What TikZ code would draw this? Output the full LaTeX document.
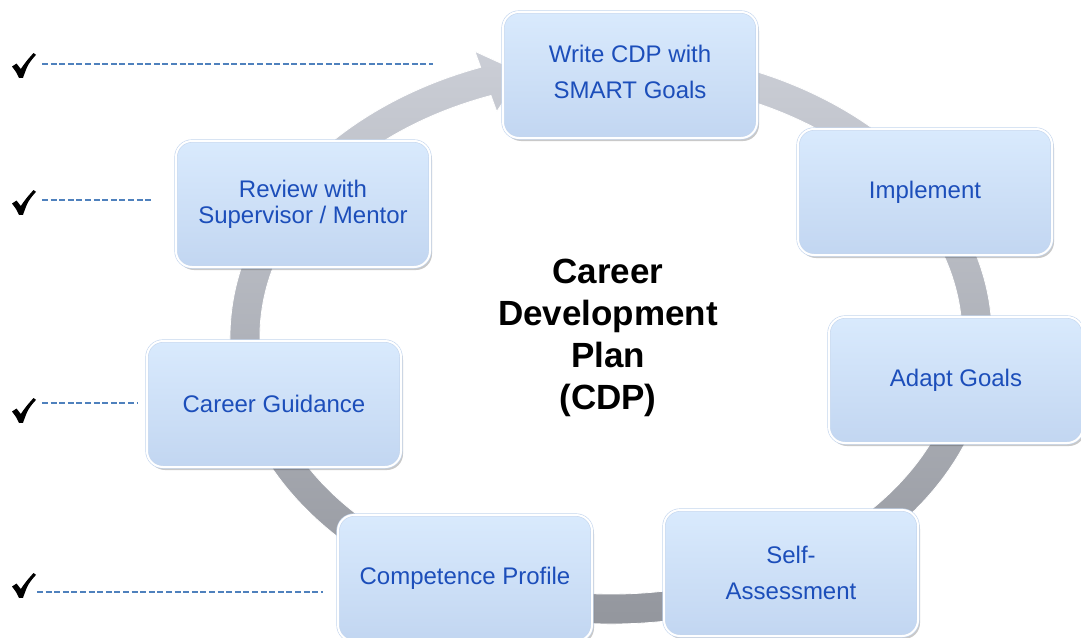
\documentclass[tikz,border=0pt]{standalone}
\usepackage{fontspec}
\setmainfont{Liberation Sans}
\usetikzlibrary{shadows}
\definecolor{boxtop}{RGB}{217,234,253}
\definecolor{boxbot}{RGB}{194,214,241}
\definecolor{boxtxt}{RGB}{28,78,186}
\definecolor{dashblue}{RGB}{79,129,189}
\definecolor{ringtop}{RGB}{203,206,214}
\definecolor{ringbot}{RGB}{146,149,156}
\definecolor{rimblue}{RGB}{196,214,238}
\tikzset{
  cdpbox/.style={rounded corners=16pt, minimum width=254pt, minimum height=126pt,
    top color=boxtop, bottom color=boxbot, draw=rimblue, line width=0.6pt,
    double=white, double distance=2pt, text=boxtxt, align=center, inner sep=2pt,
    font=\fontsize{24}{36}\selectfont,
    drop shadow={shadow xshift=2pt, shadow yshift=-3pt, opacity=0.28, fill=black!75}},
  tightbox/.style={cdpbox, font=\fontsize{24}{26}\selectfont},
  titletext/.style={align=center, inner sep=0pt, text=black, font=\fontsize{35}{42}\selectfont\bfseries},
  dashline/.style={draw=dashblue, line width=1.3pt, dash pattern=on 6pt off 2.6pt},
  ringshape/.style={top color=ringtop, bottom color=ringbot, draw=white, line width=0.8pt},
  checkmark/.style={fill=black}
}
\begin{document}
\begin{tikzpicture}[x=1pt, y=-1pt]
\useasboundingbox (0,0) rectangle (1081,637);
\clip (0,0) rectangle (1081,637);
\fill[white] (0,0) rectangle (1081,637);

% ring with arrow head
\coordinate (ringA) at ({611+381*cos(-85)},{337+287*sin(-85)});
\coordinate (barbO) at ({611+398*cos(250)},{337+304*sin(250)});
\coordinate (arrowtip) at ({611+366*cos(256)},{337+272*sin(256)});
\coordinate (barbI) at ({611+334*cos(250)},{337+240*sin(250)});
\coordinate (ringB) at ({611+351*cos(250)},{337+257*sin(250)});
\shade[ringshape] (ringA) arc[start angle=-85, end angle=250, x radius=381, y radius=287]
  -- (barbO) -- (arrowtip) -- (barbI) -- (ringB)
  arc[start angle=250, end angle=-85, x radius=351, y radius=257] -- cycle;

% boxes
\node[cdpbox] (write) at (630,75) {Write CDP with\\SMART Goals\rule[-6pt]{0pt}{0pt}};
\node[cdpbox] (impl) at (925,192) {Implement};
\node[cdpbox] (adapt) at (956,380) {Adapt Goals};
\node[cdpbox] (self) at (791,573) {Self-\\Assessment};
\node[cdpbox] (comp) at (465,578) {Competence Profile};
\node[cdpbox] (guid) at (274,404) {Career Guidance};
\node[tightbox] (review) at (303,204) {Review with\\Supervisor / Mentor};

% title
\node[titletext] (title) at (608,338) {Career\\Development\\Plan\\(CDP)};

% check marks and dashed lines
\foreach \n/\cx/\cy in {1/12/53, 2/12/190, 3/12/398, 4/12/573}{
  \coordinate (chk\n) at (\cx,\cy);
  \fill[checkmark, shift={(chk\n)}] (0,13.5) .. controls (1.5,11.5) .. (4.5,10.5) -- (8.8,16)
    .. controls (14,8.5) .. (21.5,0) -- (24,1.8) .. controls (16,11) .. (11,24.8)
    -- (7,25) .. controls (4.5,19.5) .. (0,13.5) -- cycle;
}
\coordinate (d1s) at (42,64);  \coordinate (d1e) at (433,64);
\coordinate (d2s) at (42,200); \coordinate (d2e) at (152,200);
\coordinate (d3s) at (42,403); \coordinate (d3e) at (138,403);
\coordinate (d4s) at (37,592); \coordinate (d4e) at (323,592);
\draw[dashline] (d1s) -- (d1e);
\draw[dashline] (d2s) -- (d2e);
\draw[dashline] (d3s) -- (d3e);
\draw[dashline] (d4s) -- (d4e);
\end{tikzpicture}
\end{document}
